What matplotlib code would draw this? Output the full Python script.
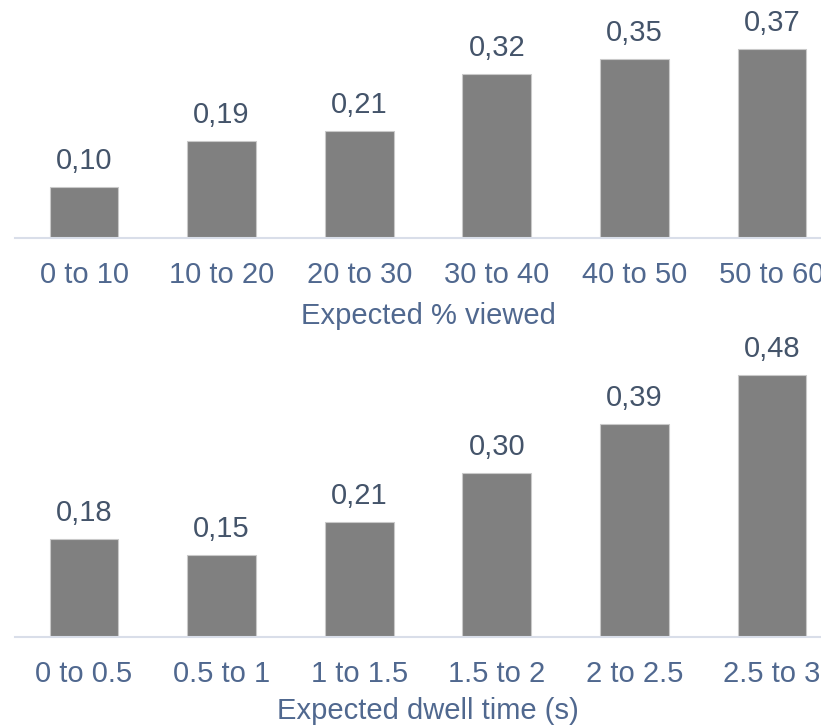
import matplotlib
matplotlib.use('Agg')
import matplotlib.pyplot as plt

# viewed share bins and their values
viewed_cats = ['0 to 10', '10 to 20', '20 to 30', '30 to 40', '40 to 50', '50 to 60']
viewed_vals = [0.10, 0.19, 0.21, 0.32, 0.35, 0.37]

# dwell time bins and their values
dwell_cats = ['0 to 0.5', '0.5 to 1', '1 to 1.5', '1.5 to 2', '2 to 2.5', '2.5 to 3']
dwell_vals = [0.18, 0.15, 0.21, 0.30, 0.39, 0.48]

plt.rcParams['font.family'] = ['Liberation Sans', 'DejaVu Sans']
fs = 21
label_col = '#44546A'
tick_col = '#50688F'
bar_col = '#808080'
axis_col = '#D9DEE9'

fig = plt.figure(figsize=(8.21, 7.28), dpi=100)

W = 821.0
H = 728.0
left = 15.2 / W
width = 825.6 / W


def panel(base_px, px_per_unit, ytop, cats, vals, title, lpad):
    h = px_per_unit * ytop
    ax = fig.add_axes([left, 1 - base_px / H, width, h / H])
    x = range(len(cats))
    ax.bar(x, vals, width=0.5, color=bar_col, edgecolor='#C9C9C9', linewidth=0.8)
    ax.set_xlim(-0.5, len(cats) - 0.5)
    ax.set_ylim(0, ytop)
    for i, v in enumerate(vals):
        ax.annotate(('%.2f' % v).replace('.', ','), (i, v), xytext=(0, 13),
                    textcoords='offset points', ha='center', va='baseline',
                    fontsize=fs, color=label_col, annotation_clip=False)
    ax.set_xticks(list(x))
    ax.set_xticklabels(cats, fontsize=fs, color=tick_col)
    ax.tick_params(axis='x', length=0, pad=17)
    ax.set_yticks([])
    for s in ['top', 'right', 'left']:
        ax.spines[s].set_visible(False)
    ax.spines['bottom'].set_color(axis_col)
    ax.spines['bottom'].set_linewidth(1.5)
    ax.set_xlabel(title, fontsize=fs, color=tick_col, labelpad=lpad)
    ax.patch.set_visible(False)
    return ax


panel(237.7, 510, 0.45, viewed_cats, viewed_vals, 'Expected % viewed', 9)
panel(636.7, 545, 0.5, dwell_cats, dwell_vals, 'Expected dwell time (s)', 6.5)

fig.savefig('out.png', dpi=100)
